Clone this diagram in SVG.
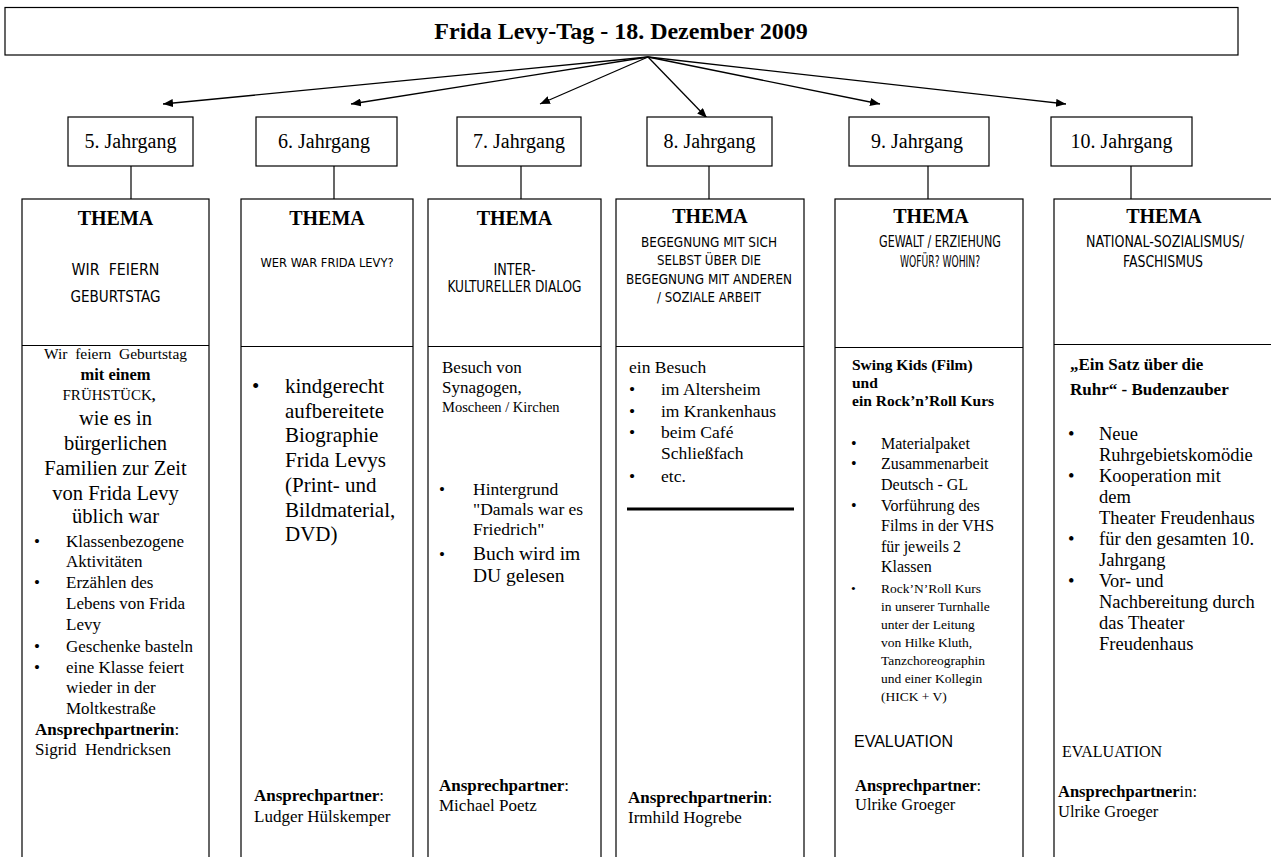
<svg xmlns="http://www.w3.org/2000/svg" width="1271" height="857" viewBox="0 0 1271 857">
<defs>
<marker id="ah" viewBox="0 0 10 8" refX="10" refY="4" markerWidth="10" markerHeight="8" markerUnits="userSpaceOnUse" orient="auto">
<path d="M0,0 L10,4 L0,8 z" fill="#000"/>
</marker>
<style>
.box{fill:#fff;stroke:#000;stroke-width:1.2}
.ln{stroke:#000;stroke-width:1.2;fill:none}
.ar{stroke:#000;stroke-width:1.3;fill:none;marker-end:url(#ah)}
.s{font-family:"Liberation Serif","Times New Roman",serif;fill:#000}
.b{font-weight:bold}
.c{text-anchor:middle}
.title{font-size:24px}
.jg{font-size:20px}
.th{font-size:20px;font-weight:bold}
.hw{font-family:"DejaVu Sans Condensed","Liberation Sans",sans-serif;fill:#000;text-anchor:middle}
.pre{white-space:pre}
.sans{font-family:"Liberation Sans",Arial,sans-serif;fill:#000}
</style>
</defs>
<rect width="1271" height="857" fill="#fff"/>

<g id="connectors">
<path class="ar" d="M648,57 L163,104"/>
<path class="ar" d="M648,57 L351,104"/>
<path class="ar" d="M648,57 L540,104"/>
<path class="ar" d="M648,57 L707,118"/>
<path class="ar" d="M648,57 L880,104"/>
<path class="ar" d="M648,57 L1066,104"/>
<path class="ln" d="M131,166 V199"/>
<path class="ln" d="M334,166 V199"/>
<path class="ln" d="M521,166 V199"/>
<path class="ln" d="M709,166 V199"/>
<path class="ln" d="M928,166 V199"/>
<path class="ln" d="M1131,166 V199"/>
</g>

<g id="title">
<rect class="box" x="5" y="7.5" width="1233" height="47.5"/>
<text class="s b c title" x="621" y="39">Frida Levy-Tag - 18. Dezember 2009</text>
</g>

<g id="jahrgang5"><rect class="box" x="68" y="117" width="125" height="49"/><text class="s c jg" x="130.5" y="148">5. Jahrgang</text></g>
<g id="jahrgang6"><rect class="box" x="256" y="117" width="141" height="49"/><text class="s c jg" x="324" y="148">6. Jahrgang</text></g>
<g id="jahrgang7"><rect class="box" x="457" y="117" width="124" height="49"/><text class="s c jg" x="519" y="148">7. Jahrgang</text></g>
<g id="jahrgang8"><rect class="box" x="647" y="117" width="125" height="49"/><text class="s c jg" x="709.5" y="148">8. Jahrgang</text></g>
<g id="jahrgang9"><rect class="box" x="849" y="117" width="140" height="49"/><text class="s c jg" x="917" y="148">9. Jahrgang</text></g>
<g id="jahrgang10"><rect class="box" x="1051" y="117" width="141" height="49"/><text class="s c jg" x="1121.5" y="148">10. Jahrgang</text></g>

<g id="col5">
<rect class="box" x="22" y="199" width="187" height="670"/>
<path class="ln" d="M22,345.5 H209"/>
<text class="s c th" x="115.5" y="225">THEMA</text>
<text class="hw pre" x="115.5" y="275" font-size="16" textLength="88" lengthAdjust="spacingAndGlyphs">WIR  FEIERN</text>
<text class="hw" x="115.5" y="302" font-size="16" textLength="90" lengthAdjust="spacingAndGlyphs">GEBURTSTAG</text>
<text class="s c pre" x="115.5" y="359" font-size="15.5">Wir  feiern  Geburtstag</text>
<text class="s c b" x="115.5" y="380" font-size="16.5">mit einem</text>
<text class="s c" x="109" y="400" font-size="15">FRÜHSTÜCK<tspan font-weight="bold">,</tspan></text>
<text class="s c" x="115.5" y="425" font-size="20.5">wie es in</text>
<text class="s c" x="115.5" y="450" font-size="20.5">bürgerlichen</text>
<text class="s c" x="115.5" y="475" font-size="20.5">Familien zur Zeit</text>
<text class="s c" x="115.5" y="500" font-size="20.5">von Frida Levy</text>
<text class="s c" x="115.5" y="523" font-size="20.5">üblich war</text>
<g class="s" font-size="17">
<text x="34" y="547">•</text><text x="66" y="547">Klassenbezogene</text>
<text x="66" y="567">Aktivitäten</text>
<text x="34" y="588">•</text><text x="66" y="588">Erzählen des</text>
<text x="66" y="609">Lebens von Frida</text>
<text x="66" y="630">Levy</text>
<text x="34" y="652">•</text><text x="66" y="652">Geschenke basteln</text>
<text x="34" y="673">•</text><text x="66" y="673">eine Klasse feiert</text>
<text x="66" y="693">wieder in der</text>
<text x="66" y="714">Moltkestraße</text>
<text x="35" y="735"><tspan font-weight="bold">Ansprechpartnerin</tspan>:</text>
<text class="pre" x="35" y="755">Sigrid  Hendricksen</text>
</g>
</g>

<g id="col6">
<rect class="box" x="241" y="199" width="172" height="670"/>
<path class="ln" d="M241,346.5 H413"/>
<text class="s c th" x="327" y="225">THEMA</text>
<text class="hw" x="327" y="267" font-size="12.5" textLength="133" lengthAdjust="spacingAndGlyphs">WER WAR FRIDA LEVY?</text>
<g class="s" font-size="21">
<text x="252" y="393">•</text>
<text x="285" y="393">kindgerecht</text>
<text x="285" y="418">aufbereitete</text>
<text x="285" y="442">Biographie</text>
<text x="285" y="467">Frida Levys</text>
<text x="285" y="492">(Print- und</text>
<text x="285" y="517">Bildmaterial,</text>
<text x="285" y="541">DVD)</text>
</g>
<g class="s" font-size="17">
<text x="254" y="801"><tspan font-weight="bold">Ansprechpartner</tspan>:</text>
<text x="254" y="822">Ludger Hülskemper</text>
</g>
</g>

<g id="col7">
<rect class="box" x="428" y="199" width="173" height="670"/>
<path class="ln" d="M428,346.5 H601"/>
<text class="s c th" x="514.5" y="225">THEMA</text>
<text class="hw" x="514.5" y="275" font-size="16" textLength="42" lengthAdjust="spacingAndGlyphs">INTER-</text>
<text class="hw" x="514.5" y="292" font-size="16" textLength="134" lengthAdjust="spacingAndGlyphs">KULTURELLER DIALOG</text>
<g class="s" font-size="17">
<text x="442" y="373">Besuch von</text>
<text x="442" y="393">Synagogen,</text>
<text x="442" y="412" font-size="14.5">Moscheen / Kirchen</text>
<text x="439" y="495">•</text><text x="473" y="495" font-size="17.5">Hintergrund</text>
<text x="473" y="515" font-size="17.5">"Damals war es</text>
<text x="473" y="535" font-size="17.5">Friedrich"</text>
<text x="439" y="560">•</text><text x="473" y="560" font-size="19.5">Buch wird im</text>
<text x="473" y="582" font-size="19.5">DU gelesen</text>
<text x="439" y="791"><tspan font-weight="bold">Ansprechpartner</tspan>:</text>
<text x="439" y="811">Michael Poetz</text>
</g>
</g>

<g id="col8">
<rect class="box" x="616" y="199" width="188" height="670"/>
<path class="ln" d="M616,346.5 H804"/>
<text class="s c th" x="710" y="223">THEMA</text>
<text class="hw" x="709" y="247" font-size="14.5" textLength="136" lengthAdjust="spacingAndGlyphs">BEGEGNUNG MIT SICH</text>
<text class="hw" x="709" y="265" font-size="14.5" textLength="104" lengthAdjust="spacingAndGlyphs">SELBST ÜBER DIE</text>
<text class="hw" x="709" y="284" font-size="14.5" textLength="166" lengthAdjust="spacingAndGlyphs">BEGEGNUNG MIT ANDEREN</text>
<text class="hw" x="709" y="302" font-size="14.5" textLength="104" lengthAdjust="spacingAndGlyphs">/ SOZIALE ARBEIT</text>
<g class="s" font-size="17.5">
<text x="629" y="373">ein Besuch</text>
<text x="629" y="395">•</text><text x="661" y="395">im Altersheim</text>
<text x="629" y="417">•</text><text x="661" y="417">im Krankenhaus</text>
<text x="629" y="438">•</text><text x="661" y="438">beim Café</text>
<text x="661" y="459">Schließfach</text>
<text x="629" y="482">•</text><text x="661" y="482">etc.</text>
</g>
<path d="M627,509 H794" stroke="#000" stroke-width="3"/>
<g class="s" font-size="17">
<text x="628" y="803"><tspan font-weight="bold">Ansprechpartnerin</tspan>:</text>
<text x="628" y="823">Irmhild Hogrebe</text>
</g>
</g>

<g id="col9">
<rect class="box" x="835" y="199" width="188" height="670"/>
<path class="ln" d="M835,347.5 H1023"/>
<text class="s c th" x="931" y="223">THEMA</text>
<text class="hw" x="940" y="247" font-size="15" textLength="122" lengthAdjust="spacingAndGlyphs">GEWALT / ERZIEHUNG</text>
<text class="hw" x="940" y="267" font-size="15" textLength="80" lengthAdjust="spacingAndGlyphs">WOFÜR? WOHIN?</text>
<g class="s b" font-size="15.5">
<text x="852" y="370">Swing Kids (Film)</text>
<text x="852" y="388">und</text>
<text x="852" y="406">ein Rock’n’Roll Kurs</text>
</g>
<g class="s" font-size="16">
<text x="851" y="449">•</text><text x="881" y="449">Materialpaket</text>
<text x="851" y="469">•</text><text x="881" y="469">Zusammenarbeit</text>
<text x="881" y="490">Deutsch - GL</text>
<text x="851" y="511">•</text><text x="881" y="511">Vorführung des</text>
<text x="881" y="531">Films in der VHS</text>
<text x="881" y="552">für jeweils 2</text>
<text x="881" y="572">Klassen</text>
</g>
<g class="s" font-size="13.5">
<text x="851" y="593">•</text><text x="881" y="593">Rock’N’Roll Kurs</text>
<text x="881" y="611">in unserer Turnhalle</text>
<text x="881" y="629">unter der Leitung</text>
<text x="881" y="647">von Hilke Kluth,</text>
<text x="881" y="665">Tanzchoreographin</text>
<text x="881" y="683">und einer Kollegin</text>
<text x="881" y="701">(HICK + V)</text>
</g>
<text class="sans" x="854" y="747" font-size="16">EVALUATION</text>
<g class="s" font-size="16.5">
<text x="855" y="791"><tspan font-weight="bold">Ansprechpartner</tspan>:</text>
<text x="855" y="810">Ulrike Groeger</text>
</g>
</g>

<g id="col10">
<rect class="box" x="1054" y="199" width="230" height="670"/>
<path class="ln" d="M1054,344.5 H1284"/>
<text class="s c th" x="1164" y="223">THEMA</text>
<text class="hw" x="1165" y="247" font-size="15" textLength="158" lengthAdjust="spacingAndGlyphs">NATIONAL-SOZIALISMUS/</text>
<text class="hw" x="1163" y="267" font-size="15" textLength="80" lengthAdjust="spacingAndGlyphs">FASCHISMUS</text>
<g class="s b" font-size="17">
<text x="1070" y="370">„Ein Satz über die</text>
<text x="1070" y="395">Ruhr“ - Budenzauber</text>
</g>
<g class="s" font-size="18.5">
<text x="1068" y="440">•</text><text x="1099" y="440">Neue</text>
<text x="1099" y="461">Ruhrgebietskomödie</text>
<text x="1068" y="482">•</text><text x="1099" y="482">Kooperation mit</text>
<text x="1099" y="503">dem</text>
<text x="1099" y="524">Theater Freudenhaus</text>
<text x="1068" y="545">•</text><text x="1099" y="545">für den gesamten 10.</text>
<text x="1099" y="566">Jahrgang</text>
<text x="1068" y="587">•</text><text x="1099" y="587">Vor- und</text>
<text x="1099" y="608">Nachbereitung durch</text>
<text x="1099" y="629">das Theater</text>
<text x="1099" y="650">Freudenhaus</text>
</g>
<text class="s" x="1062" y="757" font-size="16">EVALUATION</text>
<g class="s" font-size="16.5">
<text x="1058" y="797"><tspan font-weight="bold">Ansprechpartner</tspan>in:</text>
<text x="1058" y="817">Ulrike Groeger</text>
</g>
</g>
</svg>
